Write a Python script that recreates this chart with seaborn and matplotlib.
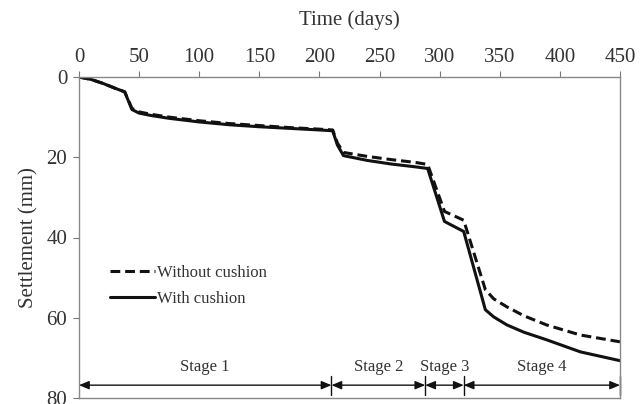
import matplotlib
matplotlib.use("Agg")
import matplotlib.pyplot as plt
import seaborn as sns
import pandas as pd

# ---- data ----
days = [0, 10, 20, 30, 38, 44, 50, 60, 75, 100, 125, 150, 175, 200, 211, 215, 220,
        240, 260, 280, 290, 304, 320, 338, 345, 356, 370, 389, 417, 450]
without_cushion = [0, 0.6, 1.6, 2.8, 3.7, 7.8, 8.7, 9.3, 10.0, 10.9, 11.6, 12.1, 12.6, 13.0,
                   13.2, 16.5, 18.8, 19.8, 20.6, 21.3, 21.8, 33.5, 35.7, 53.0, 55.3, 57.3,
                   59.5, 61.8, 64.3, 66.0]
with_cushion = [0, 0.6, 1.6, 2.8, 3.7, 8.1, 9.0, 9.6, 10.3, 11.2, 11.9, 12.4, 12.8, 13.2,
                13.4, 17.0, 19.6, 20.8, 21.7, 22.4, 22.8, 36.0, 38.5, 58.0, 59.8, 61.8,
                63.6, 65.5, 68.5, 70.7]
stage_bounds = [0, 210, 288, 320, 450]
stage_labels = ["Stage 1", "Stage 2", "Stage 3", "Stage 4"]
x_ticks = [0, 50, 100, 150, 200, 250, 300, 350, 400, 450]
y_ticks = [0, 20, 40, 60, 80]

df = pd.DataFrame({
    "day": days * 2,
    "settlement": without_cushion + with_cushion,
    "series": ["Without cushion"] * len(days) + ["With cushion"] * len(days),
})

sns.set_style("white")
plt.rcParams["font.family"] = ["Liberation Serif", "DejaVu Serif"]

fig = plt.figure(figsize=(6.44, 4.04), dpi=100)
ax = fig.add_axes([79 / 644, 1 - 398 / 404, 541 / 644, 321 / 404])

sns.lineplot(data=df, x="day", y="settlement", hue="series", style="series",
             palette={"Without cushion": "#111111", "With cushion": "#111111"},
             dashes={"Without cushion": (3.2, 1.6), "With cushion": ""},
             linewidth=2.2, ax=ax, legend=True, sort=False)

ax.set_xlim(0, 450)
ax.set_ylim(80, 0)
ax.set_xticks(x_ticks)
ax.set_yticks(y_ticks)
ax.xaxis.tick_top()
ax.xaxis.set_label_position("top")
ax.set_xlabel("Time (days)", fontsize=15, color="#333333", labelpad=16)
ax.set_ylabel("Settlement (mm)", fontsize=15, color="#333333", labelpad=6)
ax.tick_params(axis="both", which="major", direction="out", length=4.5, width=0.8,
               color="#777777", labelsize=15, labelcolor="#333333")
ax.tick_params(axis="x", pad=3)
ax.tick_params(axis="y", pad=4, left=True)
ax.tick_params(axis="x", top=True, bottom=False)
for sp in ax.spines.values():
    sp.set_visible(True)
    sp.set_color("#888888")
    sp.set_linewidth(1.0)

# legend
leg = ax.legend(loc="upper left", bbox_to_anchor=(0.057, 0.414), frameon=False,
                fontsize=12, handlelength=2.7, handletextpad=0.15, labelspacing=0.6,
                borderpad=0, borderaxespad=0)
for t in leg.get_texts():
    t.set_color("#333333")

# stage arrows
arrow_y = 76.8
for i in range(len(stage_labels)):
    x0, x1 = stage_bounds[i], stage_bounds[i + 1]
    ax.annotate("", xy=(x1, arrow_y), xytext=(x0, arrow_y),
                arrowprops=dict(arrowstyle="<|-|>,head_length=0.6,head_width=0.25",
                                color="#111111", lw=1.0, shrinkA=0, shrinkB=0))
    ax.text((x0 + x1) / 2, 72.3, stage_labels[i], ha="center", va="center",
            fontsize=12, color="#333333")
for xb in stage_bounds[1:]:
    ax.plot([xb, xb], [74.5, 79.2], color="#111111", lw=1.0, clip_on=False)

fig.savefig("out.png", dpi=100)
